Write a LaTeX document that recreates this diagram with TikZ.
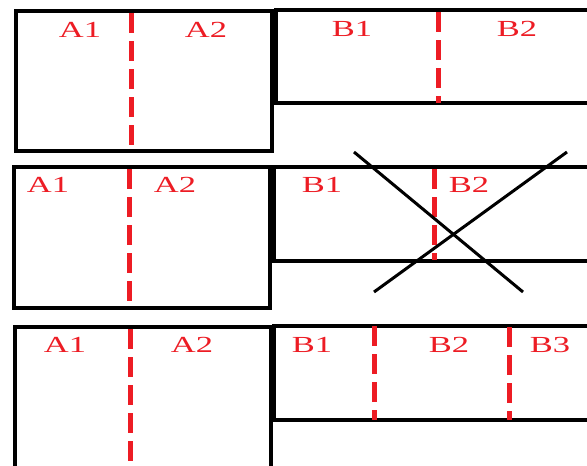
\documentclass[tikz,border=0pt]{standalone}
\usepackage{fontspec}
\usepackage{graphicx}
\setmainfont{Liberation Serif}
\definecolor{mred}{RGB}{237,28,36}
\newcommand{\wide}[1]{\scalebox{1.5}[1]{#1}}
\tikzset{
  wall/.style={draw=black, line width=4pt},
  cut/.style={draw=mred, line width=5pt, dash pattern=on 20pt off 8pt},
  lbl/.style={text=mred, font=\fontsize{23}{25}\selectfont, inner sep=0pt},
  cross/.style={draw=black, line width=3pt}
}
\begin{document}
\begin{tikzpicture}[x=1pt,y=-1pt]
\useasboundingbox (0,0) rectangle (587,466);
\clip (0,0) rectangle (587,466);
\fill[white] (0,0) rectangle (587,466);
% Row 1
\draw[wall] (16,11) rectangle (272,151);
\draw[wall] (590,10) -- (276,10) -- (276,103) -- (590,103);
\draw[cut] (131,13) -- (131,151);
\draw[cut] (438,12) -- (438,103);
\node[lbl] (r1a1) at (80,30) {\wide{A1}};
\node[lbl] (r1a2) at (206,30) {\wide{A2}};
\node[lbl] (r1b1) at (352,29) {\wide{B1}};
\node[lbl] (r1b2) at (517,29) {\wide{B2}};
% Row 2
\draw[wall] (14,167) rectangle (270,308);
\draw[wall] (590,167) -- (274,167) -- (274,261) -- (590,261);
\draw[cut] (129,169) -- (129,308);
\draw[cut] (434,169) -- (434,260);
\node[lbl] (r2a1) at (48,185) {\wide{A1}};
\node[lbl] (r2a2) at (175,185) {\wide{A2}};
\node[lbl] (r2b1) at (322,185) {\wide{B1}};
\node[lbl] (r2b2) at (469,185) {\wide{B2}};
\draw[cross] (354,152) -- (523,292);
\draw[cross] (567,152) -- (374,292);
% Row 3
\draw[wall] (15,470) -- (15,327) -- (271,327) -- (271,470);
\draw[wall] (590,326) -- (274,326) -- (274,420) -- (590,420);
\draw[cut] (130,329) -- (130,470);
\draw[cut] (374,326) -- (374,420);
\draw[cut] (509,327) -- (509,420);
\node[lbl] (r3a1) at (65,345) {\wide{A1}};
\node[lbl] (r3a2) at (192,345) {\wide{A2}};
\node[lbl] (r3b1) at (312,345) {\wide{B1}};
\node[lbl] (r3b2) at (449,345) {\wide{B2}};
\node[lbl] (r3b3) at (550,345) {\wide{B3}};
\end{tikzpicture}
\end{document}
